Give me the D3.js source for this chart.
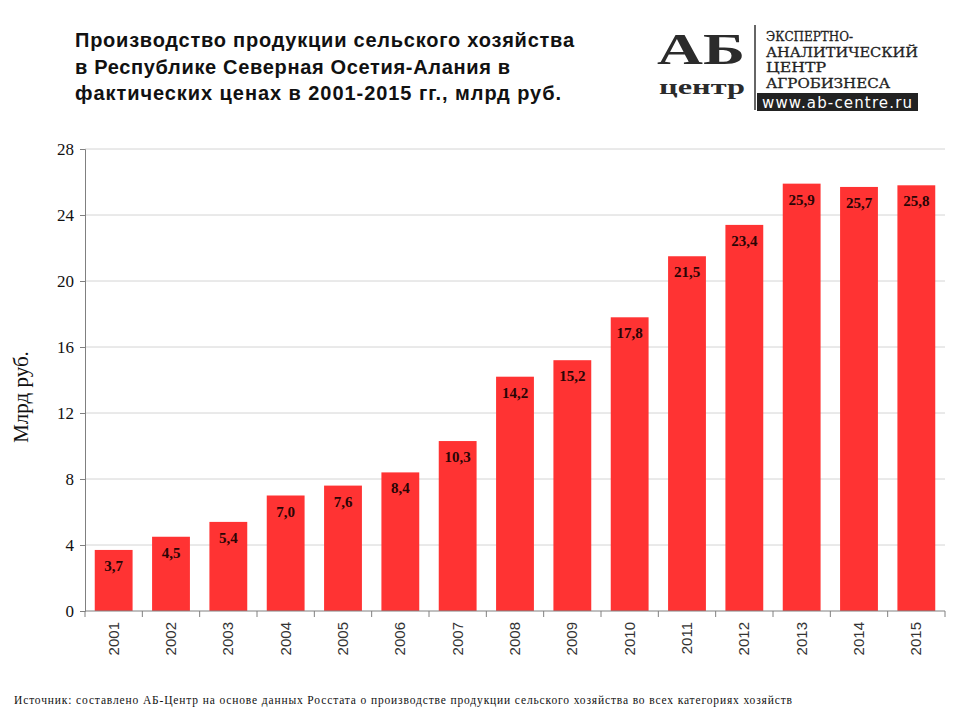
<!DOCTYPE html>
<html><head><meta charset="utf-8">
<script src="https://d3js.org/d3.v7.min.js"></script>
<style>body{margin:0;background:#fff}</style>
</head><body>
<svg id="c" width="960" height="720"></svg>
<script>
const years = ["2001","2002","2003","2004","2005","2006","2007","2008","2009","2010","2011","2012","2013","2014","2015"];
const values = [3.7,4.5,5.4,7.0,7.6,8.4,10.3,14.2,15.2,17.8,21.5,23.4,25.9,25.7,25.8];
const yTicks = [0,4,8,12,16,20,24,28];
const titleLines = ["Производство продукции сельского хозяйства","в Республике Северная Осетия-Алания в","фактических ценах в 2001-2015 гг., млрд руб."];
const logoLines = ["ЭКСПЕРТНО-","АНАЛИТИЧЕСКИЙ","ЦЕНТР","АГРОБИЗНЕСА"];

const svg = d3.select("#c");
const L=85,R=945,T=149,B=611;
const x = d3.scaleBand().domain(years).range([L,R]).paddingInner(0.34).paddingOuter(0.17);
const y = d3.scaleLinear().domain([0,28]).range([B,T]);

// grid
svg.append("g").selectAll("line").data(yTicks.filter(d=>d>0)).join("line")
  .attr("x1",L).attr("x2",R).attr("y1",d=>y(d)).attr("y2",d=>y(d))
  .attr("stroke","#d4d4d4").attr("stroke-width",1);

// bars
svg.append("g").selectAll("rect").data(values).join("rect")
  .attr("x",(d,i)=>x(years[i])).attr("width",x.bandwidth())
  .attr("y",d=>y(d)).attr("height",d=>B-y(d)).attr("fill","#ff3333");

// labels
svg.append("g").selectAll("text").data(values).join("text")
  .attr("x",(d,i)=>x(years[i])+x.bandwidth()/2).attr("y",d=>y(d)+21)
  .attr("text-anchor","middle").attr("font-family","Liberation Serif, Times New Roman, serif")
  .attr("font-weight","bold").attr("font-size",15).attr("fill","#2a0505")
  .text(d=>d.toFixed(1).replace(".",","));

// y axis
const ya = svg.append("g").attr("transform",`translate(${L},0)`)
  .call(d3.axisLeft(y).tickValues(yTicks).tickSize(5).tickPadding(6));
ya.select(".domain").attr("stroke","#808080");
ya.selectAll(".tick line").attr("stroke","#808080");
ya.selectAll("text").attr("font-family","Liberation Serif, Times New Roman, serif").attr("font-size",17).attr("fill","#111");

// x axis
const step = x.step();
const xa = svg.append("g").attr("transform",`translate(0,${B})`);
xa.append("line").attr("x1",L).attr("x2",R).attr("stroke","#808080");
xa.selectAll("line.t").data(d3.range(years.length+1)).join("line").attr("class","t")
  .attr("x1",i=>L+i*step).attr("x2",i=>L+i*step).attr("y1",0).attr("y2",6).attr("stroke","#808080");
xa.selectAll("text").data(years).join("text")
  .attr("transform",d=>`translate(${x(d)+x.bandwidth()/2+5},11) rotate(-90)`)
  .attr("text-anchor","end").attr("font-family","Liberation Sans, Arial, sans-serif")
  .attr("font-size",15).attr("fill","#333").text(d=>d);

// y label
svg.append("text").attr("transform","translate(28,397) rotate(-90)").attr("text-anchor","middle")
  .attr("font-family","Liberation Serif, Times New Roman, serif").attr("font-size",21).attr("fill","#111").text("Млрд руб.");

// title
const tl = [499,435,486];
svg.append("g").selectAll("text").data(titleLines).join("text")
  .attr("x",75).attr("y",(d,i)=>47+i*26.5)
  .attr("font-family","Liberation Sans, Arial, sans-serif").attr("font-weight","bold")
  .attr("font-size",20).attr("fill","#111")
  .attr("textLength",(d,i)=>tl[i]).attr("lengthAdjust","spacing").text(d=>d);

// logo
const lg = svg.append("g");
lg.append("text").attr("x",701).attr("y",64).attr("text-anchor","middle")
  .attr("font-family","Liberation Serif, serif").attr("font-weight","bold").attr("font-size",44)
  .attr("fill","#2b2b2b").attr("textLength",88).attr("lengthAdjust","spacingAndGlyphs").text("АБ");
lg.append("text").attr("x",702).attr("y",93.5).attr("text-anchor","middle")
  .attr("font-family","Liberation Serif, serif").attr("font-weight","bold").attr("font-size",21)
  .attr("fill","#2b2b2b").attr("textLength",86).attr("lengthAdjust","spacingAndGlyphs").text("центр");
lg.append("line").attr("x1",755).attr("x2",755).attr("y1",25).attr("y2",110).attr("stroke","#333").attr("stroke-width",1.5);
lg.selectAll("text.l").data(logoLines).join("text").attr("class","l")
  .attr("x",766).attr("y",(d,i)=>41+i*15.5)
  .attr("font-family","DejaVu Serif, serif").attr("font-size",13.5).attr("fill","#222")
  .attr("stroke","#222").attr("stroke-width",0.3)
  .attr("textLength",(d,i)=>[87,152,60,124][i]).attr("lengthAdjust","spacingAndGlyphs").text(d=>d);
lg.append("rect").attr("x",757).attr("y",93).attr("width",161).attr("height",18).attr("fill","#222");
lg.append("text").attr("x",837).attr("y",107.5).attr("text-anchor","middle")
  .attr("font-family","DejaVu Sans, sans-serif").attr("font-size",15).attr("fill","#fff")
  .attr("textLength",150).text("www.ab-centre.ru");

// footer
svg.append("text").attr("x",14).attr("y",704)
  .attr("font-family","Liberation Serif, Times New Roman, serif").attr("font-size",11.5).attr("fill","#111")
  .attr("textLength",778)
  .text("Источник:  составлено АБ-Центр  на основе данных  Росстата о производстве продукции сельского хозяйства  во всех  категориях хозяйств");
</script>
</body></html>
